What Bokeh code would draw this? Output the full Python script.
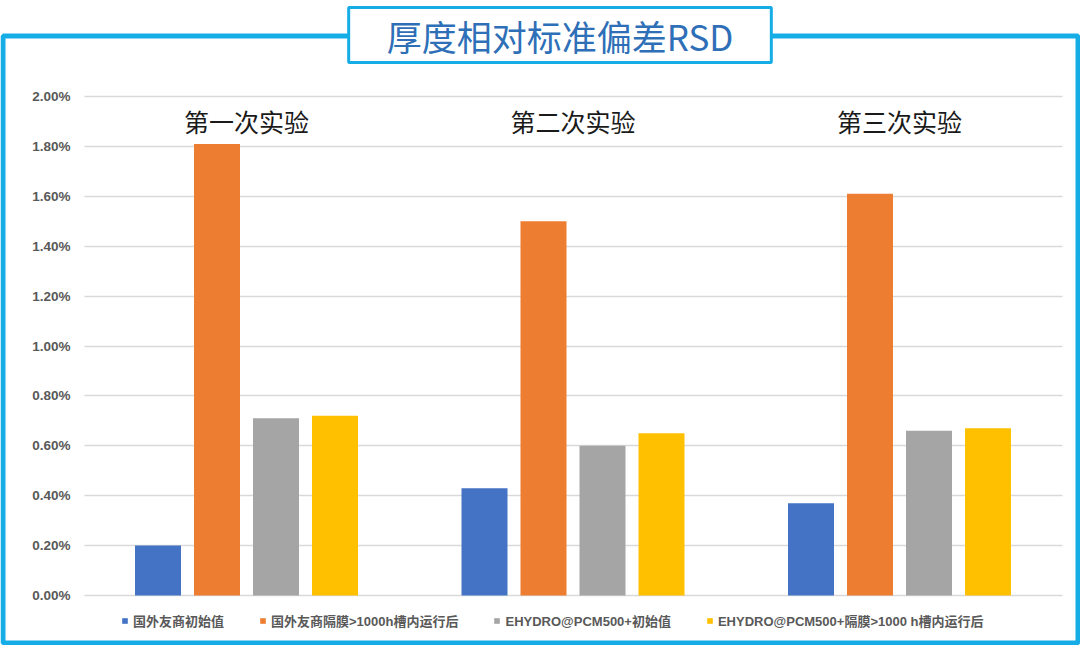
from bokeh.plotting import figure
from bokeh.models import (Range1d, FixedTicker, PrintfTickFormatter, LinearAxis, Grid,
                          ColumnDataSource, Legend, LegendItem, BoxAnnotation, Label)
from bokeh.core.properties import value
from bokeh.transform import dodge
from bokeh.embed import file_html
from bokeh.resources import INLINE

# ---- data (thickness RSD, in percent) ----
groups = ["第一次实验", "第二次实验", "第三次实验"]
series = [
    "国外友商初始值",
    "国外友商隔膜>1000h槽内运行后",
    "EHYDRO@PCM500+初始值",
    "EHYDRO@PCM500+隔膜>1000 h槽内运行后",
]
rsd_foreign_initial = [0.20, 0.43, 0.37]
rsd_foreign_after = [1.81, 1.50, 1.61]
rsd_ehydro_initial = [0.71, 0.60, 0.66]
rsd_ehydro_after = [0.72, 0.65, 0.67]
y_ticks = [0.0, 0.2, 0.4, 0.6, 0.8, 1.0, 1.2, 1.4, 1.6, 1.8, 2.0]
title_text = "厚度相对标准偏差RSD"

series_values = [rsd_foreign_initial, rsd_foreign_after, rsd_ehydro_initial, rsd_ehydro_after]
colors = ["#4472C4", "#ED7D31", "#A5A5A5", "#FFC000"]

FRAME_BLUE = "#16ADE6"
LATIN_CJK = "'Liberation Sans', 'Noto Sans CJK SC', sans-serif"

# ---- canvas geometry (pixels) ----
W, H = 1080, 645
PLOT_LEFT, PLOT_RIGHT = 84, 1062       # extent of the value grid
PLOT_TOP, PLOT_BOTTOM = 96, 595        # y = 2.00% and y = 0.00%
GROUP0_CX = 246                        # centre of first group
GROUP_STEP = 326.5                     # px between group centres
BAR_STEP = 59                          # px between bars in a group
BAR_W = 46                             # bar width in px

PX_PER_PCT = (PLOT_BOTTOM - PLOT_TOP) / (y_ticks[-1] - y_ticks[0])


def xd(cx):
    """canvas x (px) -> x data units (1 unit = one group step)"""
    return (cx - GROUP0_CX) / GROUP_STEP


def yd(cy):
    """canvas y (px, from top) -> value in percent"""
    return (PLOT_BOTTOM - cy) / PX_PER_PCT


group_pos = list(range(len(groups)))

p = figure(
    width=W, height=H,
    x_range=Range1d(xd(0), xd(W)),
    y_range=Range1d(yd(H), yd(0)),
    x_axis_location=None, y_axis_location=None,
    output_backend="svg", toolbar_location=None,
    min_border=0,
)
p.outline_line_color = None
p.background_fill_color = "white"
p.border_fill_color = "white"
# drop the default grids; a bounded one is added below
for g in p.grid:
    g.visible = False

# horizontal value grid, limited to the plotting band
grid = Grid(dimension=1, ticker=FixedTicker(ticks=y_ticks),
            grid_line_color="#D9D9D9", grid_line_width=1.3,
            cross_bounds=(xd(PLOT_LEFT), xd(PLOT_RIGHT)))
p.add_layout(grid)

# clustered bars
renderers = []
n = len(series)
for k, (name, vals, col) in enumerate(zip(series, series_values, colors)):
    src = ColumnDataSource(dict(x=group_pos, top=vals))
    offset = (k - (n - 1) / 2) * BAR_STEP / GROUP_STEP
    r = p.vbar(x=dodge("x", offset), top="top", bottom=0, width=BAR_W / GROUP_STEP,
               source=src, fill_color=col, line_color=None)
    renderers.append(r)

# value axis pinned at the left edge of the grid
yax = LinearAxis(fixed_location=xd(PLOT_LEFT), bounds=(y_ticks[0], y_ticks[-1]))
yax.ticker = FixedTicker(ticks=y_ticks)
yax.formatter = PrintfTickFormatter(format="%.2f%%")
yax.axis_line_color = None
yax.major_tick_line_color = None
yax.minor_tick_line_color = None
yax.major_tick_out = 0
yax.major_tick_in = 0
yax.major_label_standoff = 14
yax.major_label_text_font = "Liberation Sans"
yax.major_label_text_font_style = "bold"
yax.major_label_text_font_size = "13.5px"
yax.major_label_text_color = "#595959"
p.add_layout(yax, "left")

# experiment labels above each group
p.text(x=group_pos, y=[1.9] * len(groups), text=groups,
       text_font=value("Noto Sans CJK SC"), text_font_size="25px",
       text_color="#1A1A1A", text_align="center", text_baseline="middle")

# legend along the bottom
legend = Legend(
    items=[LegendItem(label=s, renderers=[r]) for s, r in zip(series, renderers)],
    orientation="horizontal",
    location=(121, H - 630),
    glyph_width=7, glyph_height=7, label_height=16,
    label_standoff=5, spacing=35, padding=0, margin=0,
    border_line_color=None, background_fill_alpha=0,
    label_text_font=LATIN_CJK, label_text_font_size="13px",
    label_text_font_style="bold", label_text_color="#595959",
)
p.add_layout(legend, "center")

# outer blue frame
frame_box = BoxAnnotation(
    left=xd(2.5), right=xd(W - 2.5), top=yd(35.5), bottom=yd(H - 2.5),
    fill_alpha=0, line_color=FRAME_BLUE, line_alpha=1.0, line_width=5,
)
p.add_layout(frame_box)

# boxed title over the frame's top edge
title = Label(
    x=xd(559.5), y=yd(34.5),
    text=title_text, anchor="center",
    text_font="Noto Sans CJK SC", text_font_size="35px", text_color="#2E6FB7",
    background_fill_color="white", background_fill_alpha=1.0,
    border_line_color=FRAME_BLUE, border_line_alpha=1.0, border_line_width=3,
    padding=dict(left=38, right=38, top=2, bottom=2),
)
p.add_layout(title)

open("out.html", "w").write(file_html(p, INLINE))
